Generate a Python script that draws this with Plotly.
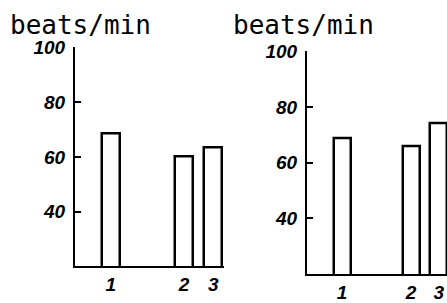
import plotly.graph_objects as go

# data
group_labels = ["1", "2", "3"]
group_positions = [1, 3.5, 4.5]
left_values = [68.4, 60.0, 63.5]
right_values = [68.7, 66.0, 74.3]
y_ticks = [40, 60, 80, 100]
unit_label = "beats/min"

W, H = 447, 303

def px(v):
    return v / W

def py(v):
    return (H - v) / H

fig = go.Figure()
fig.add_trace(go.Bar(x=group_positions, y=left_values, xaxis="x", yaxis="y",
                     width=0.62, marker=dict(color="white", line=dict(color="black", width=2.5))))
fig.add_trace(go.Bar(x=group_positions, y=right_values, xaxis="x2", yaxis="y2",
                     width=0.62, marker=dict(color="white", line=dict(color="black", width=2.5))))

tickfont = dict(family="Liberation Sans", size=19, color="black", style="italic", weight="bold")

common_x = dict(showline=True, linecolor="black", linewidth=2, showgrid=False, zeroline=False,
                tickvals=group_positions, ticktext=group_labels, ticks="", tickfont=tickfont)
common_y = dict(showline=True, linecolor="black", linewidth=2, showgrid=False, zeroline=False,
                range=[20, 100], tickvals=y_ticks, ticks="inside", ticklen=6, tickwidth=2,
                tickcolor="black", tickfont=tickfont, ticklabelstandoff=4)

fig.update_layout(
    width=W, height=H, margin=dict(l=0, r=0, t=0, b=0),
    paper_bgcolor="white", plot_bgcolor="white", showlegend=False,
    xaxis=dict(domain=[px(75), px(223.5)], range=[-0.22, 4.85], anchor="y", **common_x),
    yaxis=dict(domain=[py(267), py(39)], anchor="x", **common_y),
    xaxis2=dict(domain=[px(307), 1.0], range=[-0.27, 4.80], anchor="y2", **common_x),
    yaxis2=dict(domain=[py(275), py(43)], anchor="x2", **common_y),
    bargap=0,
)

titlefont = dict(family="DejaVu Sans Mono", size=26, color="black")
fig.add_annotation(text=unit_label, xref="paper", yref="paper", x=px(8), y=py(16),
                   xanchor="left", yanchor="middle", showarrow=False, font=titlefont)
fig.add_annotation(text=unit_label, xref="paper", yref="paper", x=px(231), y=py(16),
                   xanchor="left", yanchor="middle", showarrow=False, font=titlefont)

fig.write_html("out.html", config={"displayModeBar": False},
               post_script="document.body.style.margin='0';")
